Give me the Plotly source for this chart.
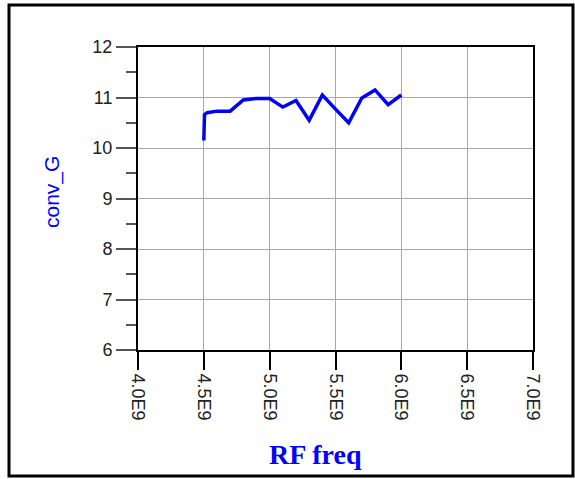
import plotly.graph_objects as go

# Data
rf_freq = [4.5e9, 4.505e9, 4.525e9, 4.6e9, 4.7e9, 4.8e9, 4.9e9, 5.0e9, 5.1e9, 5.2e9,
           5.3e9, 5.4e9, 5.5e9, 5.6e9, 5.7e9, 5.8e9, 5.9e9, 6.0e9]
conv_g = [10.15, 10.66, 10.70, 10.73, 10.73, 10.95, 10.98, 10.98, 10.81, 10.94,
          10.55, 11.05, 10.77, 10.50, 10.99, 11.15, 10.86, 11.05]

x_tickvals = [4.0e9, 4.5e9, 5.0e9, 5.5e9, 6.0e9, 6.5e9, 7.0e9]
x_ticktext = ["4.0E9", "4.5E9", "5.0E9", "5.5E9", "6.0E9", "6.5E9", "7.0E9"]
y_tickvals = [6, 7, 8, 9, 10, 11, 12]

W, H = 575, 479
L, R, T, B = 138, 533, 47, 350


def px_x(p):
    return (p - L) / (R - L)


def px_y(p):
    return (B - p) / (B - T)


fig = go.Figure()
fig.add_trace(go.Scatter(x=rf_freq, y=conv_g, mode="lines",
                         line=dict(color="#0000FF", width=3.5), showlegend=False))

tick_font = dict(family="Liberation Sans, Arial", size=18, color="#222222")

fig.update_layout(
    width=W, height=H,
    margin=dict(l=L, r=W - R, t=T, b=H - B),
    paper_bgcolor="white", plot_bgcolor="white",
    xaxis=dict(range=[4.0e9, 7.0e9], tickvals=x_tickvals, ticktext=x_ticktext,
               tickangle=90, tickfont=tick_font, ticks="outside", ticklen=18,
               tickcolor="black", tickwidth=1.5,
               showgrid=True, gridcolor="#a8a8a8", gridwidth=1,
               showline=True, linecolor="black", linewidth=2, mirror=True,
               zeroline=False),
    yaxis=dict(range=[6, 12], tickvals=y_tickvals, tickfont=tick_font,
               ticks="outside", ticklen=20, tickcolor="#555555", tickwidth=1.5,
               minor=dict(dtick=0.5, ticks="outside", ticklen=10, tickcolor="#555555",
                          tickwidth=1.5, showgrid=False),
               showgrid=True, gridcolor="#a8a8a8", gridwidth=1,
               showline=True, linecolor="black", linewidth=2, mirror=True,
               zeroline=False),
    annotations=[
        dict(text="conv_G", xref="paper", yref="paper", x=px_x(52), y=px_y(192),
             xanchor="center", yanchor="middle", textangle=-90, showarrow=False,
             font=dict(family="Liberation Sans, Arial", size=21, color="#0000FF")),
        dict(text="<b>RF freq</b>", xref="paper", yref="paper", x=px_x(315), y=px_y(455),
             xanchor="center", yanchor="middle", showarrow=False,
             font=dict(family="Liberation Serif, Times New Roman", size=28, color="#0000FF")),
    ],
    shapes=[
        dict(type="rect", xref="paper", yref="paper",
             x0=px_x(9), x1=px_x(573), y0=px_y(476), y1=px_y(5),
             line=dict(color="black", width=3), layer="below"),
    ],
)

fig.write_html("out.html", config={"displayModeBar": False},
               post_script="document.body.style.margin='0';document.body.style.padding='0';")
